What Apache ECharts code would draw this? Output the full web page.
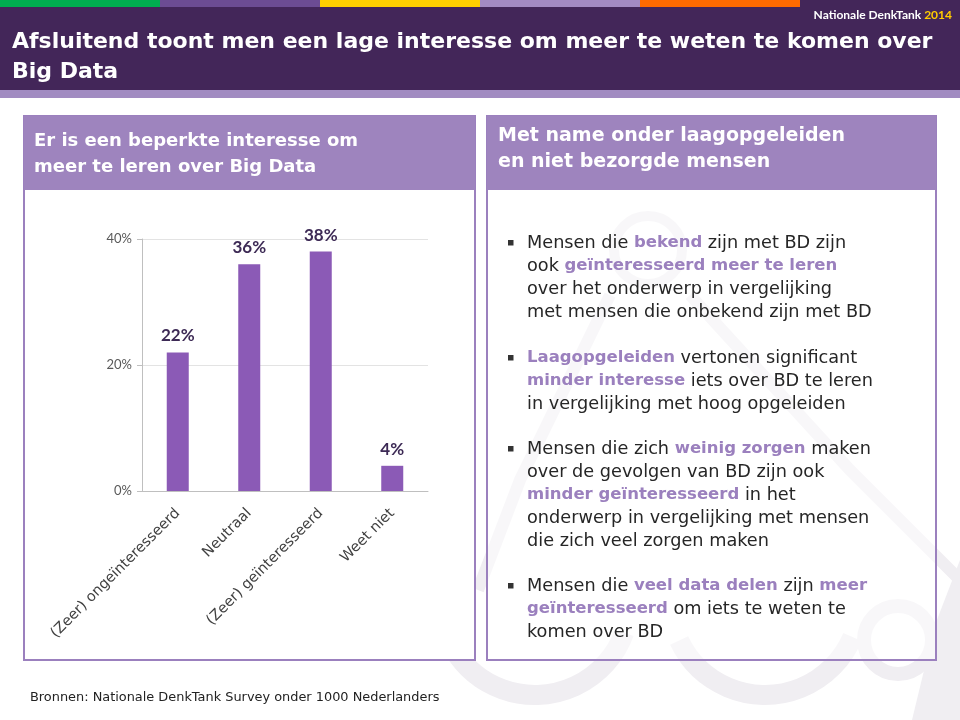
<!DOCTYPE html>
<html><head><meta charset="utf-8">
<script src="https://cdn.jsdelivr.net/npm/echarts@6/dist/echarts.min.js"></script>
<style>html,body{margin:0;padding:0;background:#fff}#c{width:960px;height:720px}</style>
</head><body><div id="c"></div>
<script>
var categories = ['(Zeer) ongeïnteresseerd', 'Neutraal', '(Zeer) geïnteresseerd', 'Weet niet'];
var values = [22, 36, 38, 4];
var yTicks = [0, 20, 40];

var FONT = '"DejaVu Sans", sans-serif';
var NUMFONT = 'Lato, sans-serif';
var HL = '#9B80BE';
var TXT = '#262626';
var WM = '#F0EEF2';

var chart = echarts.init(document.getElementById('c'), null, {renderer: 'canvas'});

function bullet(y, lines) {
  var els = [];
  els.push({type: 'rect', shape: {x: 508, y: y - 3, width: 5.5, height: 5.5}, style: {fill: '#333'}, z: 10});
  lines.forEach(function (ln, i) {
    var str = ln.map(function (p) { return p[1] ? '{h|' + p[0] + '}' : '{n|' + p[0] + '}'; }).join('');
    els.push({type: 'text', x: 527, y: y + i * 23, z: 10, style: {text: str, verticalAlign: 'middle',
      rich: {n: {fontFamily: FONT, fontSize: 17.7, fill: TXT}, h: {fontFamily: FONT, fontSize: 16.5, fontWeight: 'bold', fill: HL}}}});
  });
  return els;
}

var graphics = [
  {type: 'rect', shape: {x: 0, y: 0, width: 960, height: 90}, style: {fill: '#432659'}, z: 1},
  {type: 'rect', shape: {x: 0, y: 0, width: 160, height: 7}, style: {fill: '#00AE50'}, z: 2},
  {type: 'rect', shape: {x: 160, y: 0, width: 160, height: 7}, style: {fill: '#6C4C93'}, z: 2},
  {type: 'rect', shape: {x: 320, y: 0, width: 160, height: 7}, style: {fill: '#FFD000'}, z: 2},
  {type: 'rect', shape: {x: 480, y: 0, width: 160, height: 7}, style: {fill: '#A38AC2'}, z: 2},
  {type: 'rect', shape: {x: 640, y: 0, width: 160, height: 7}, style: {fill: '#FF6A00'}, z: 2},
  {type: 'rect', shape: {x: 0, y: 90, width: 960, height: 8}, style: {fill: '#A18BC1'}, z: 2},
  {type: 'text', x: 952, y: 15, z: 3, style: {text: '{a|Nationale DenkTank }{b|2014}', align: 'right', verticalAlign: 'middle',
    rich: {a: {fontFamily: NUMFONT, fontSize: 12, fontWeight: 'bold', fill: '#fff'}, b: {fontFamily: NUMFONT, fontSize: 12, fontWeight: 'bold', fill: '#FFCC00'}}}},
  {type: 'text', x: 12, y: 42, z: 3, style: {text: 'Afsluitend toont men een lage interesse om meer te weten te komen over', verticalAlign: 'middle', fontFamily: FONT, fontSize: 22, fontWeight: 'bold', fill: '#fff'}},
  {type: 'text', x: 12, y: 72, z: 3, style: {text: 'Big Data', verticalAlign: 'middle', fontFamily: FONT, fontSize: 22, fontWeight: 'bold', fill: '#fff'}},
  // watermark (faint logo)
  {type: 'circle', shape: {cx: 648, cy: 250, r: 34}, style: {fill: 'none', stroke: WM, lineWidth: 10}, z: 0},
  {type: 'polyline', shape: {points: [[610, 295], [520, 480], [478, 590]]}, style: {fill: 'none', stroke: WM, lineWidth: 12}, z: 0},
  {type: 'polyline', shape: {points: [[690, 295], [850, 470], [960, 580]]}, style: {fill: 'none', stroke: WM, lineWidth: 12}, z: 0},
  {type: 'arc', shape: {cx: 535, cy: 600, r: 95, startAngle: 0.35, endAngle: 2.6}, style: {fill: 'none', stroke: WM, lineWidth: 20}, z: 0},
  {type: 'arc', shape: {cx: 765, cy: 600, r: 95, startAngle: 0.4, endAngle: 2.7}, style: {fill: 'none', stroke: WM, lineWidth: 20}, z: 0},
  {type: 'circle', shape: {cx: 898, cy: 640, r: 34}, style: {fill: 'none', stroke: WM, lineWidth: 14}, z: 0},
  {type: 'polygon', shape: {points: [[935, 625], [960, 560], [960, 720], [912, 720]]}, style: {fill: WM}, z: 0},
  // left panel
  {type: 'rect', shape: {x: 24, y: 116, width: 451, height: 544}, style: {fill: '#fff', stroke: '#9B80BE', lineWidth: 2}, z: 4},
  {type: 'rect', shape: {x: 24, y: 116, width: 451, height: 74}, style: {fill: '#9E84BE'}, z: 5},
  {type: 'text', x: 34, y: 141, z: 6, style: {text: 'Er is een beperkte interesse om', verticalAlign: 'middle', fontFamily: FONT, fontSize: 18, fontWeight: 'bold', fill: '#fff'}},
  {type: 'text', x: 34, y: 167, z: 6, style: {text: 'meer te leren over Big Data', verticalAlign: 'middle', fontFamily: FONT, fontSize: 18, fontWeight: 'bold', fill: '#fff'}},
  // right panel
  {type: 'rect', shape: {x: 487, y: 116, width: 449, height: 544}, style: {fill: 'rgba(255,255,255,0.55)', stroke: '#9B80BE', lineWidth: 2}, z: 4},
  {type: 'rect', shape: {x: 487, y: 116, width: 449, height: 74}, style: {fill: '#9E84BE'}, z: 5},
  {type: 'text', x: 498, y: 136, z: 6, style: {text: 'Met name onder laagopgeleiden', verticalAlign: 'middle', fontFamily: FONT, fontSize: 19, fontWeight: 'bold', fill: '#fff'}},
  {type: 'text', x: 498, y: 162, z: 6, style: {text: 'en niet bezorgde mensen', verticalAlign: 'middle', fontFamily: FONT, fontSize: 19, fontWeight: 'bold', fill: '#fff'}},
  {type: 'text', x: 30, y: 698, z: 6, style: {text: 'Bronnen: Nationale DenkTank Survey onder 1000 Nederlanders', verticalAlign: 'middle', fontFamily: FONT, fontSize: 12.9, fill: '#222'}}
];
graphics = graphics.concat(
  bullet(243, [[['Mensen die '], ['bekend', 1], [' zijn met BD zijn']], [['ook '], ['geïnteresseerd meer te leren', 1]], [['over het onderwerp in vergelijking']], [['met mensen die onbekend zijn met BD']]]),
  bullet(358, [[['Laagopgeleiden', 1], [' vertonen significant']], [['minder interesse', 1], [' iets over BD te leren']], [['in vergelijking met hoog opgeleiden']]]),
  bullet(449, [[['Mensen die zich '], ['weinig zorgen', 1], [' maken']], [['over de gevolgen van BD zijn ook']], [['minder geïnteresseerd', 1], [' in het']], [['onderwerp in vergelijking met mensen']], [['die zich veel zorgen maken']]]),
  bullet(586, [[['Mensen die '], ['veel data delen', 1], [' zijn '], ['meer', 1]], [['geïnteresseerd', 1], [' om iets te weten te']], [['komen over BD']]])
);

chart.setOption({
  animation: false,
  backgroundColor: '#fff',
  grid: {left: 142, right: 532, top: 239, bottom: 229, z: 8},
  xAxis: {type: 'category', data: categories, z: 8,
    axisLine: {lineStyle: {color: '#BFBFBF'}}, axisTick: {show: false},
    axisLabel: {rotate: 45, interval: 0, margin: 20, fontFamily: FONT, fontSize: 14.5, color: '#404040'}},
  yAxis: {type: 'value', min: 0, max: 40, interval: 20, z: 8,
    axisLine: {show: true, lineStyle: {color: '#BFBFBF'}}, axisTick: {show: true, length: 5, lineStyle: {color: '#BFBFBF'}},
    splitLine: {lineStyle: {color: '#E3E3E3'}},
    axisLabel: {formatter: '{value}%', fontFamily: NUMFONT, fontSize: 13, color: '#595959', margin: 10}},
  series: [{type: 'bar', data: values, barWidth: 22, z: 8,
    itemStyle: {color: '#8B5AB6'},
    label: {show: true, position: 'top', distance: 8, formatter: '{c}%', fontFamily: NUMFONT, fontSize: 17, fontWeight: 'bold', color: '#3D2A55'}}],
  graphic: {elements: graphics}
});
</script></body></html>
